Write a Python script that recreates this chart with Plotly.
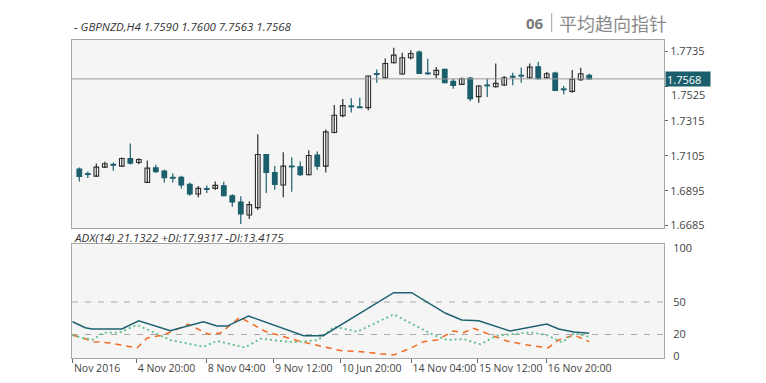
import plotly.graph_objects as go

# ---------------- data ----------------
opens = [1.7025, 1.6997, 1.6983, 1.7037, 1.7053, 1.7043, 1.7089, 1.7065, 1.6945, 1.7033,
         1.7013, 1.6975, 1.6975, 1.6933, 1.6875, 1.6907, 1.6909, 1.6925, 1.6865, 1.6827,
         1.6749, 1.6793, 1.7113, 1.7005, 1.6929, 1.7043, 1.7039, 1.6991, 1.7109, 1.7043,
         1.7245, 1.7347, 1.7405, 1.7399, 1.7395, 1.7599, 1.7575, 1.7665, 1.7597, 1.7695,
         1.7729, 1.7603, 1.7593, 1.7625, 1.7553, 1.7535, 1.7573, 1.7461, 1.7531, 1.7521,
         1.7531, 1.7583, 1.7589, 1.7575, 1.7641, 1.7575, 1.7603, 1.7507, 1.7493, 1.7563,
         1.7590]
highs = [1.7035, 1.7011, 1.7059, 1.7069, 1.7065, 1.7095, 1.7179, 1.7091, 1.7077, 1.7051,
         1.7021, 1.6999, 1.6985, 1.6945, 1.6923, 1.6927, 1.6951, 1.6949, 1.6873, 1.6861,
         1.6831, 1.7235, 1.7115, 1.7043, 1.7127, 1.7095, 1.7071, 1.7139, 1.7131, 1.7263,
         1.7411, 1.7447, 1.7451, 1.7455, 1.7587, 1.7625, 1.7691, 1.7755, 1.7725, 1.7741,
         1.7739, 1.7689, 1.7639, 1.7629, 1.7569, 1.7577, 1.7579, 1.7531, 1.7569, 1.7661,
         1.7585, 1.7605, 1.7637, 1.7661, 1.7671, 1.7609, 1.7611, 1.7525, 1.7621, 1.7635,
         1.7600]
lows = [1.6951, 1.6971, 1.6979, 1.7031, 1.7015, 1.7041, 1.7053, 1.7055, 1.6943, 1.7001,
        1.6945, 1.6945, 1.6909, 1.6865, 1.6855, 1.6881, 1.6901, 1.6861, 1.6799, 1.6695,
        1.6725, 1.6779, 1.6881, 1.6901, 1.6855, 1.6889, 1.6983, 1.6987, 1.7021, 1.7005,
        1.7241, 1.7337, 1.7365, 1.7393, 1.7379, 1.7545, 1.7571, 1.7661, 1.7593, 1.7685,
        1.7597, 1.7593, 1.7573, 1.7541, 1.7509, 1.7531, 1.7433, 1.7425, 1.7459, 1.7515,
        1.7525, 1.7529, 1.7545, 1.7567, 1.7565, 1.7569, 1.7497, 1.7475, 1.7485, 1.7555,
        1.7563]
closes = [1.6981, 1.6993, 1.7037, 1.7057, 1.7049, 1.7089, 1.7061, 1.7083, 1.7031, 1.7009,
          1.6973, 1.6971, 1.6929, 1.6875, 1.6909, 1.6903, 1.6927, 1.6865, 1.6827, 1.6755,
          1.6811, 1.7113, 1.7005, 1.6933, 1.7043, 1.7039, 1.6991, 1.7107, 1.7043, 1.7249,
          1.7349, 1.7407, 1.7401, 1.7395, 1.7585, 1.7595, 1.7661, 1.7711, 1.7695, 1.7721,
          1.7601, 1.7599, 1.7619, 1.7545, 1.7529, 1.7569, 1.7449, 1.7525, 1.7527, 1.7541,
          1.7575, 1.7579, 1.7586, 1.7639, 1.7569, 1.7599, 1.7499, 1.7503, 1.7565, 1.7599,
          1.7568]
last_price = 1.7568

price_ticks = [1.6685, 1.6895, 1.7105, 1.7315, 1.7525, 1.7735]

# ADX / DI lines (x = candle index, y = value)
adx_x = [-0.8, 0.7, 1.5, 5.0, 7.0, 9.1, 10.7, 14.6, 16.2, 17.4, 19.9, 26.4, 28.7,
         37.0, 39.1, 43.1, 45.0, 47.0, 50.7, 55.0, 56.4, 58.2, 60.0]
adx_y = [31.8, 26.3, 25.1, 25.1, 32.7, 27.2, 23.5, 31.8, 27.8, 27.8, 37.1, 18.9, 18.9,
         58.6, 58.6, 39.6, 33.4, 32.7, 23.2, 29.7, 25.1, 22.4, 21.13]
pdi_x = [-0.8, 1.5, 2.9, 4.7, 6.8, 10.7, 14.6, 16.2, 19.5, 21.3, 25.2, 28.1, 30.0,
         32.7, 37.0, 41.7, 43.3, 45.2, 47.2, 49.1, 53.1, 55.0, 56.8, 58.2, 60.0]
pdi_y = [19.5, 14.9, 21.8, 21.8, 28.8, 14.9, 8.7, 14.0, 8.0, 16.1, 12.8, 14.9, 27.2,
         22.6, 38.6, 19.5, 14.9, 15.8, 11.0, 18.9, 22.0, 19.5, 12.8, 21.1, 17.93]
mdi_x = [-0.8, 1.7, 3.6, 6.8, 8.0, 9.9, 12.8, 15.2, 16.6, 18.9, 21.9, 26.1, 30.7,
         33.1, 37.0, 39.1, 40.5, 42.1, 44.0, 45.2, 46.4, 48.4, 50.3, 52.7, 55.2, 56.4,
         58.2, 60.0]
mdi_y = [19.5, 13.4, 12.2, 7.6, 16.8, 19.5, 29.4, 20.2, 21.4, 35.9, 22.8, 13.4, 5.2,
         4.1, 1.1, 7.8, 13.4, 14.9, 23.2, 21.7, 25.7, 19.5, 14.0, 10.3, 7.8, 14.9,
         19.5, 13.42]
adx_levels = [50, 20]
adx_ticks = [0, 20, 50, 100]

time_tick_pos = [-0.75, 6.75, 15.0, 22.9, 30.75, 39.1, 46.9, 55.0]
time_tick_labels = ["Nov 2016", "4 Nov 20:00", "8 Nov 04:00", "9 Nov 12:00",
                    "10 Jun 20:00", "14 Nov 04:00", "15 Nov 12:00", "16 Nov 20:00"]

title_text = "- GBPNZD,H4 1.7590 1.7600 7.7563 1.7568"
adx_text = "ADX(14) 21.1322 +DI:17.9317 -DI:13.4175"

# ---------------- styling ----------------
TEAL = "#1b5f6d"
DARK = "#2e2e2e"
FONT = "Open Sans"
idx = list(range(len(opens)))

fig = go.Figure()

# wicks
for up in (True, False):
    wx, wy = [], []
    for i in idx:
        if (closes[i] >= opens[i]) == up:
            wx += [i, i, None]
            wy += [lows[i], highs[i], None]
    fig.add_trace(go.Scatter(x=wx, y=wy, mode="lines", xaxis="x", yaxis="y",
                             line=dict(color=DARK if up else TEAL, width=1.2),
                             hoverinfo="skip", showlegend=False))

# bodies
for up in (True, False):
    bx, bb, bh = [], [], []
    for i in idx:
        if (closes[i] >= opens[i]) == up:
            lo = min(opens[i], closes[i])
            h = abs(closes[i] - opens[i])
            if h < 0.0005:
                lo -= (0.0005 - h) / 2
                h = 0.0005
            bx.append(i)
            bb.append(lo)
            bh.append(h)
    fig.add_trace(go.Bar(x=bx, y=bh, base=bb, width=0.55, xaxis="x", yaxis="y",
                         marker=dict(color="#fbfbfb" if up else TEAL,
                                     line=dict(color=DARK if up else TEAL, width=1.1)),
                         showlegend=False, hoverinfo="skip"))

# ADX panel
fig.add_trace(go.Scatter(x=mdi_x, y=mdi_y, mode="lines", xaxis="x2", yaxis="y2",
                         line=dict(color="#f26a21", width=1.5, dash="6px,5px"),
                         showlegend=False))
fig.add_trace(go.Scatter(x=pdi_x, y=pdi_y, mode="lines", xaxis="x2", yaxis="y2",
                         line=dict(color="#5cbf8a", width=1.8, dash="2px,3px"),
                         showlegend=False))
fig.add_trace(go.Scatter(x=adx_x, y=adx_y, mode="lines", xaxis="x2", yaxis="y2",
                         line=dict(color="#1d6271", width=1.5),
                         showlegend=False))

shapes = []
for lv in adx_levels:
    shapes.append(dict(type="line", xref="x2 domain", yref="y2", x0=0, x1=1, y0=lv, y1=lv,
                       line=dict(color="#a8a8a8", width=1, dash="6px,7px"), layer="below"))
shapes.append(dict(type="line", xref="x domain", yref="y", x0=0, x1=1,
                   y0=last_price, y1=last_price, line=dict(color="#9a9a9a", width=1)))
# separator in header
shapes.append(dict(type="line", xref="paper", yref="paper", x0=0.8103, x1=0.8103,
                   y0=1.025, y1=1.085, line=dict(color="#a0a0a0", width=1)))

xr = [-0.86, 68.8]
axis_common = dict(showline=True, linecolor="#a6a6a6", linewidth=1, mirror=True,
                   showgrid=False, zeroline=False, automargin=False)

tick_txt = [("" if v == 1.7525 else f"{v:.4f}") for v in price_ticks]

annotations = [
    dict(text=f"<i>{title_text}</i>", xref="paper", yref="paper", x=0, y=1.044,
         xanchor="left", yanchor="middle", showarrow=False,
         font=dict(family=FONT, size=11.5, color="#333333")),
    dict(text=f"<i>{adx_text}</i>", xref="paper", yref="paper", x=0, y=0.3805,
         xanchor="left", yanchor="middle", showarrow=False,
         font=dict(family=FONT, size=11.5, color="#333333")),
    dict(text="<b>06</b>", xref="paper", yref="paper", x=0.782, y=1.0535,
         xanchor="center", yanchor="middle", showarrow=False,
         font=dict(family=FONT, size=15, color="#7a7a7a")),
    dict(text="平均趋向指针", xref="paper", yref="paper", x=0.8193, y=1.055,
         xanchor="left", yanchor="middle", showarrow=False,
         font=dict(family="Noto Sans CJK SC", size=18, color="#8a8a8a")),
    dict(text="1.7568", xref="paper", yref="y", x=1, y=last_price,
         xanchor="left", yanchor="middle", showarrow=False, align="left",
         bgcolor=TEAL, borderpad=1, width=42, height=12, xshift=1,
         font=dict(family=FONT, size=11, color="white")),
    dict(text="1.7525", xref="paper", yref="y", x=1, y=1.7525, yshift=-8, xshift=5,
         xanchor="left", yanchor="middle", showarrow=False,
         font=dict(family=FONT, size=11, color="#444444")),
]

fig.update_layout(
    width=766, height=383,
    margin=dict(l=72, r=102, t=40, b=25),
    paper_bgcolor="white", plot_bgcolor="#f5f5f5",
    barmode="overlay", showlegend=False,
    font=dict(family=FONT, size=11, color="#444444"),
    xaxis=dict(domain=[0, 1], range=xr, anchor="y", showticklabels=False, ticks="",
               **axis_common),
    yaxis=dict(domain=[0.409, 1.0], range=[1.6671, 1.7802], side="right", anchor="x",
               tickvals=price_ticks, ticktext=tick_txt, ticks="outside", ticklen=3,
               tickcolor="#666666", tickfont=dict(family=FONT, size=11, color="#444444"),
               **axis_common),
    xaxis2=dict(domain=[0, 1], range=xr, anchor="y2", tickvals=time_tick_pos,
                ticktext=time_tick_labels, ticks="outside", ticklen=4, tickcolor="#666666",
                ticklabelposition="outside right", tickangle=0,
                tickfont=dict(family=FONT, size=10.5, color="#444444"), **axis_common),
    yaxis2=dict(domain=[0, 0.3576], range=[-1.7, 103.3], side="right", anchor="x2",
                tickvals=adx_ticks, ticks="", ticklabelstandoff=6,
                tickfont=dict(family=FONT, size=11, color="#444444"), **axis_common),
    shapes=shapes,
    annotations=annotations,
)

fig.write_html("out.html", config={"displayModeBar": False},
               post_script="document.body.style.margin='0';document.body.style.overflow='hidden';")
